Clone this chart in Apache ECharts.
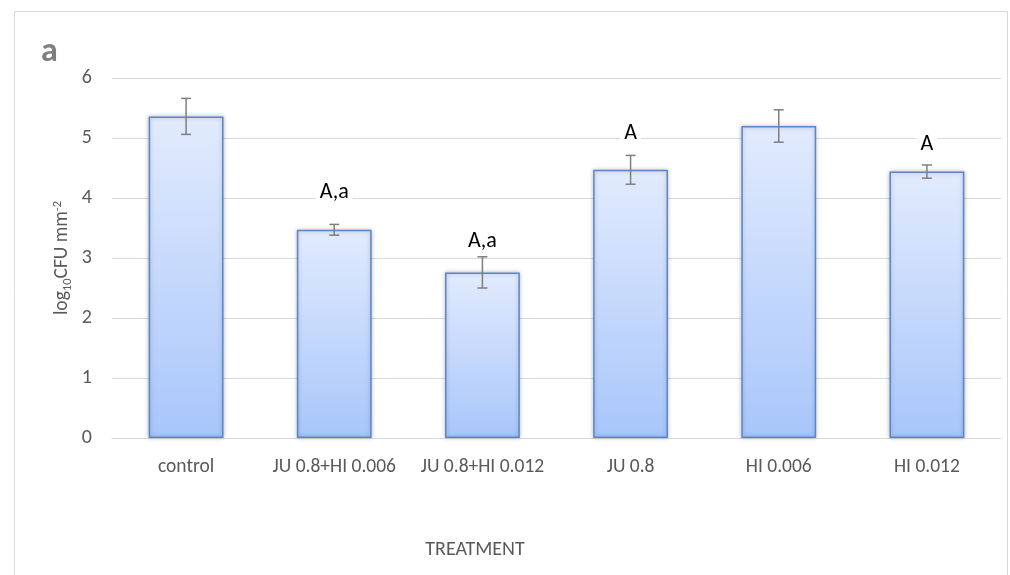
<!DOCTYPE html>
<html>
<head>
<meta charset="utf-8">
<script src="https://cdn.jsdelivr.net/npm/echarts@6/dist/echarts.min.js"></script>
<style>html,body{margin:0;padding:0;background:#fff}#c{width:1010px;height:575px}</style>
</head>
<body>
<div id="c"></div>
<script>
const categories = ['control', 'JU 0.8+HI 0.006', 'JU 0.8+HI 0.012', 'JU 0.8', 'HI 0.006', 'HI 0.012'];
const means = [5.36, 3.47, 2.76, 4.47, 5.20, 4.44];
const errors = [0.30, 0.09, 0.26, 0.24, 0.27, 0.11];
const letters = ['', 'A,a', 'A,a', 'A', '', 'A'];
const yTicks = [0, 1, 2, 3, 4, 5, 6];

const FONT = 'Carlito, Lato, "Open Sans", sans-serif';
const labelDist = [0, 26, 20, 25, 0, 16];

const chart = echarts.init(document.getElementById('c'));
const option = {
  animation: false,
  backgroundColor: '#ffffff',
  textStyle: { fontFamily: FONT },
  grid: { left: 112, right: 9, top: 78, bottom: 137 },
  graphic: [
    { type: 'rect', shape: { x: 14.5, y: 11.5, width: 993, height: 600 }, style: { fill: 'none', stroke: '#d9d9d9', lineWidth: 1 }, silent: true },
    { type: 'text', left: 41, top: 35, style: { text: 'a', fill: '#7f7f7f', font: 'bold 34px ' + FONT } },
    { type: 'text', x: 475, y: 550, style: { text: 'TREATMENT', fill: '#595959', font: '20px ' + FONT, align: 'center', verticalAlign: 'middle' } }
  ],
  xAxis: {
    type: 'category',
    data: categories,
    axisLine: { show: true, lineStyle: { color: '#d9d9d9', width: 1 } },
    axisTick: { show: false },
    axisLabel: { color: '#595959', fontSize: 19.5, margin: 19, interval: 0, fontFamily: FONT }
  },
  yAxis: {
    type: 'value',
    min: yTicks[0],
    max: yTicks[yTicks.length - 1],
    interval: 1,
    name: '{n|log}{s|10}{n|CFU mm}{p|-2}',
    nameLocation: 'middle',
    nameRotate: 90,
    nameGap: 38,
    nameMoveOverlap: false,
    nameTextStyle: {
      rich: {
        n: { fontSize: 19.5, color: '#595959', fontFamily: FONT },
        s: { fontSize: 12.5, color: '#595959', fontFamily: FONT, padding: [10, 0, 0, 0] },
        p: { fontSize: 12.5, color: '#595959', fontFamily: FONT, padding: [0, 0, 10, 0] }
      }
    },
    axisLine: { show: false },
    axisTick: { show: false },
    axisLabel: { color: '#595959', fontSize: 20, margin: 20, fontFamily: FONT },
    splitLine: { lineStyle: { color: '#d9d9d9', width: 1 } }
  },
  series: [
    {
      type: 'bar',
      barWidth: '50.5%',
      z: 2,
      data: means.map((v, i) => ({
        value: v,
        label: {
          show: letters[i] !== '',
          position: 'top',
          distance: labelDist[i],
          formatter: letters[i],
          color: '#000000',
          fontSize: 22,
          fontFamily: FONT,
          backgroundColor: '#ffffff',
          padding: [0, 4, 0, 4]
        }
      })),
      itemStyle: {
        color: new echarts.graphic.LinearGradient(0, 0, 0, 1, [
          { offset: 0, color: '#e2ebfd' },
          { offset: 1, color: '#a8c6fb' }
        ]),
        borderColor: '#5b87c8',
        borderWidth: 1.5,
        shadowColor: 'rgba(0,0,0,0.25)',
        shadowBlur: 4
      }
    },
    {
      type: 'custom',
      z: 5,
      data: means.map((v, i) => [i, v - errors[i], v + errors[i]]),
      renderItem: function (params, api) {
        const x = api.value(0);
        const lo = api.coord([x, api.value(1)]);
        const hi = api.coord([x, api.value(2)]);
        const cw = 5;
        const st = { stroke: '#7f7f7f', lineWidth: 1.5 };
        return {
          type: 'group',
          children: [
            { type: 'line', shape: { x1: lo[0], y1: lo[1], x2: hi[0], y2: hi[1] }, style: st },
            { type: 'line', shape: { x1: lo[0] - cw, y1: lo[1], x2: lo[0] + cw, y2: lo[1] }, style: st },
            { type: 'line', shape: { x1: hi[0] - cw, y1: hi[1], x2: hi[0] + cw, y2: hi[1] }, style: st }
          ]
        };
      }
    }
  ]
};
chart.setOption(option);
</script>
</body>
</html>
